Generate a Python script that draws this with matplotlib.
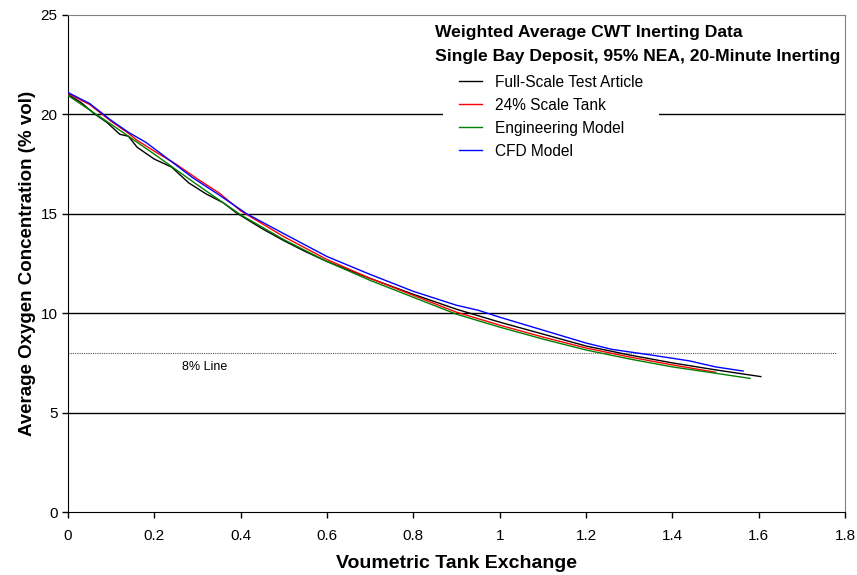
import matplotlib
matplotlib.use("Agg")
import matplotlib.pyplot as plt
from matplotlib.lines import Line2D

plt.rcParams['font.family'] = ['Liberation Sans', 'DejaVu Sans']

# Full-scale test article
full_x = [0, 0.03, 0.06, 0.09, 0.12, 0.14, 0.16, 0.2, 0.24, 0.28, 0.32, 0.36, 0.39,
          0.45, 0.5, 0.55, 0.6, 0.7, 0.8, 0.9, 1.0, 1.1, 1.2, 1.3, 1.4, 1.5, 1.605]
full_y = [21.0, 20.6, 20.05, 19.6, 19.0, 18.9, 18.35, 17.75, 17.35, 16.55, 16.0, 15.55, 15.05,
          14.25, 13.65, 13.1, 12.6, 11.75, 10.95, 10.2, 9.55, 8.95, 8.35, 7.9, 7.5, 7.15, 6.81]

# 24% scale tank
scale_x = [0, 0.05, 0.1, 0.14, 0.16, 0.2, 0.25, 0.3, 0.35, 0.4, 0.45, 0.5, 0.6, 0.7,
           0.8, 0.9, 1.0, 1.1, 1.2, 1.3, 1.4, 1.5]
scale_y = [21.05, 20.5, 19.65, 19.05, 18.7, 18.15, 17.5, 16.75, 16.05, 15.15, 14.5, 13.85, 12.7, 11.75,
           10.9, 10.05, 9.4, 8.8, 8.25, 7.8, 7.4, 7.03]

# Engineering model
eng_x = [0, 0.1, 0.2, 0.3, 0.4, 0.5, 0.6, 0.7, 0.8, 0.9, 1.0, 1.1, 1.2, 1.3, 1.4, 1.5, 1.58]
eng_y = [20.95, 19.5, 18.0, 16.45, 14.95, 13.7, 12.6, 11.65, 10.8, 9.95, 9.3, 8.7, 8.15, 7.7, 7.3, 6.98, 6.72]

# CFD model
cfd_x = [0, 0.05, 0.1, 0.14, 0.18, 0.22, 0.29, 0.35, 0.414, 0.5, 0.6, 0.7, 0.8, 0.9, 0.95,
         1.0, 1.1, 1.2, 1.26, 1.35, 1.44, 1.5, 1.564]
cfd_y = [21.1, 20.55, 19.7, 19.1, 18.6, 17.95, 16.8, 15.95, 15.0, 14.0, 12.85, 11.95, 11.1, 10.4, 10.15,
         9.8, 9.15, 8.5, 8.18, 7.9, 7.6, 7.3, 7.09]

# 8% reference line
ref_x = [0, 1.78]
ref_y = [8, 8]

series_labels = ["Full-Scale Test Article", "24% Scale Tank", "Engineering Model", "CFD Model"]
x_ticks = [0, 0.2, 0.4, 0.6, 0.8, 1, 1.2, 1.4, 1.6, 1.8]
x_tick_labels = ["0", "0.2", "0.4", "0.6", "0.8", "1", "1.2", "1.4", "1.6", "1.8"]
y_ticks = [0, 5, 10, 15, 20, 25]

fig = plt.figure(figsize=(8.57, 5.75), dpi=100)
ax = fig.add_axes([68 / 857, 63 / 575, 777 / 857, 497 / 575])

for yv in [5, 10, 15, 20]:
    ax.axhline(yv, color='black', lw=1.0, zorder=1)

ax.plot(ref_x, ref_y, color='#555555', lw=0.8, ls=(0, (1, 1)), zorder=2)
ax.text(0.317, 7.3, "8% Line", fontsize=9, ha='center', va='center')

colors = ['black', 'red', 'green', 'blue']
data = [(full_x, full_y), (scale_x, scale_y), (eng_x, eng_y), (cfd_x, cfd_y)]
for (xs, ys), c in zip(data, colors):
    ax.plot(xs, ys, color=c, lw=1.0, zorder=3)

ax.set_xlim(0, 1.8)
ax.set_ylim(0, 25)
ax.set_xticks(x_ticks)
ax.set_xticklabels(x_tick_labels)
ax.set_yticks(y_ticks)
ax.tick_params(axis='both', direction='out', length=4, width=1, labelsize=11, colors='black')
ax.tick_params(axis='x', pad=8)

ax.spines['left'].set_color('black')
ax.spines['bottom'].set_color('black')
ax.spines['top'].set_color('#808080')
ax.spines['right'].set_color('#808080')

ax.set_xlabel("Voumetric Tank Exchange", fontsize=14, fontweight='bold', labelpad=9)
ax.set_ylabel("Average Oxygen Concentration (% vol)", fontsize=13.5, fontweight='bold', labelpad=3)

handles = [Line2D([0], [0], color=c, lw=1.0) for c in colors]
leg = ax.legend(handles, series_labels, loc='upper left',
                bbox_to_anchor=(443 / 857, 1 - 59 / 575), bbox_transform=fig.transFigure,
                frameon=True, fontsize=11.2, handlelength=1.5, handletextpad=0.85,
                labelspacing=0.52, borderpad=1.0, borderaxespad=0)
leg.get_frame().set_facecolor('white')
leg.get_frame().set_edgecolor('none')
leg.get_frame().set_alpha(1)
leg.get_frame().set_boxstyle('square', pad=0)
leg.set_zorder(5)

fig.text(435 / 857, 1 - 33 / 575, "Weighted Average CWT Inerting Data",
         fontsize=12.6, fontweight='bold', ha='left', va='center', zorder=10)
fig.text(435 / 857, 1 - 56 / 575, "Single Bay Deposit, 95% NEA, 20-Minute Inerting",
         fontsize=12.6, fontweight='bold', ha='left', va='center', zorder=10)

fig.savefig("out.png", dpi=100)
